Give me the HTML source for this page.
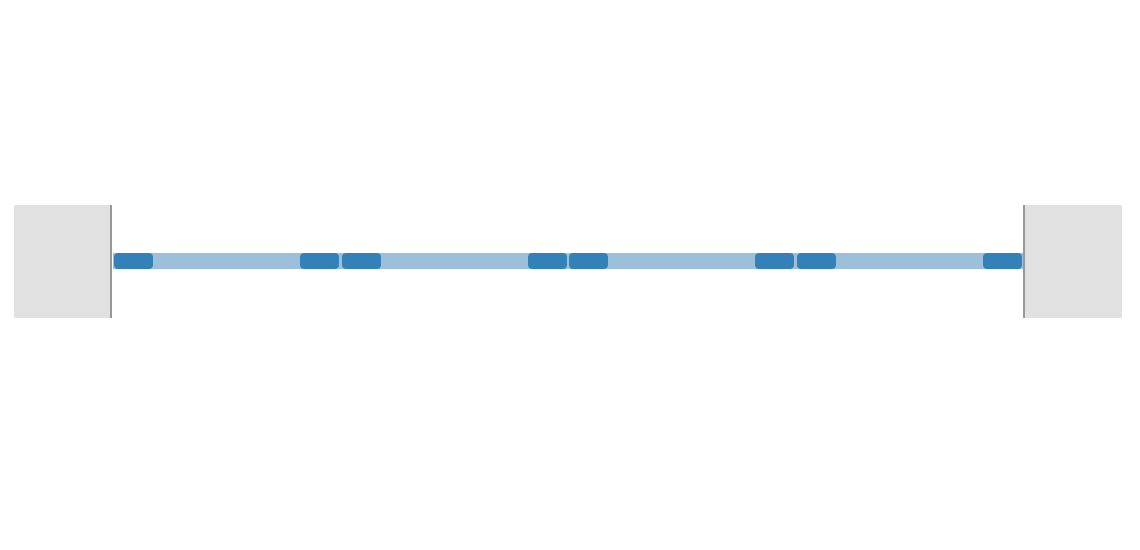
<!DOCTYPE html>
<html><head><style>
body{margin:0;width:1140px;height:550px;background:#fff;position:relative;overflow:hidden}
div{position:absolute}
.b{background:#e1e1e1;top:205px;height:113px}
.l{background:#999;top:205px;height:113px;width:2px}
.d{background:#3381b9;top:253px;height:16px;width:39px;border-radius:4px}
</style></head><body>
<div class="b" style="left:14px;width:97px"></div>
<div class="l" style="left:110px"></div>
<div class="b" style="left:1025px;width:97px"></div>
<div class="l" style="left:1023px"></div>
<div style="left:113px;top:253px;width:910px;height:16px;background:#9cc0da"></div>
<div class="d" style="left:114px"></div>
<div class="d" style="left:300px"></div>
<div class="d" style="left:342px"></div>
<div class="d" style="left:528px"></div>
<div class="d" style="left:569px"></div>
<div class="d" style="left:755px"></div>
<div class="d" style="left:797px"></div>
<div class="d" style="left:983px"></div>
</body></html>
